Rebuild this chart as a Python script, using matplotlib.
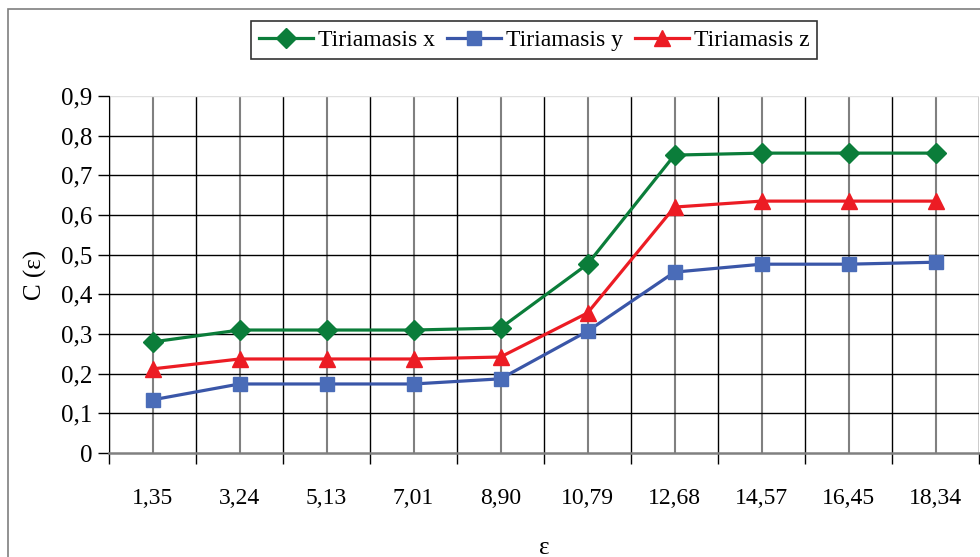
import numpy as np
import matplotlib
matplotlib.use("Agg")
import matplotlib.pyplot as plt
from matplotlib.patches import Rectangle

plt.rcParams['font.family'] = ['Liberation Serif', 'DejaVu Serif']

categories = ['1,35', '3,24', '5,13', '7,01', '8,90', '10,79', '12,68', '14,57', '16,45', '18,34']
tiri_x = [0.28, 0.31, 0.31, 0.31, 0.315, 0.476, 0.751, 0.756, 0.756, 0.756]
tiri_y = [0.134, 0.174, 0.174, 0.174, 0.187, 0.307, 0.456, 0.476, 0.476, 0.481]
tiri_z = [0.212, 0.237, 0.237, 0.237, 0.242, 0.353, 0.62, 0.635, 0.635, 0.635]
y_ticks = [0, 0.1, 0.2, 0.3, 0.4, 0.5, 0.6, 0.7, 0.8, 0.9]
y_labels = ['0', '0,1', '0,2', '0,3', '0,4', '0,5', '0,6', '0,7', '0,8', '0,9']

fig = plt.figure(figsize=(9.8, 5.57), dpi=100)
fig.patches.append(Rectangle((8 / 980, -0.1), 1.2, 1.1 - 9 / 557, transform=fig.transFigure,
                             fill=False, edgecolor='#7f7f7f', linewidth=1.2))
ax = fig.add_axes([109 / 980, 1 - 453 / 557, 870 / 980, 357 / 557])

pos = np.arange(len(categories))
ax.plot(pos, tiri_x, color='#0b7d3a', lw=2.3, marker='D', ms=10, label='Tiriamasis x', zorder=5, clip_on=False)
ax.plot(pos, tiri_y, color='#3a56a8', lw=2.3, marker='s', ms=10, mfc='#4a6cb8', mec='#4a6cb8',
        label='Tiriamasis y', zorder=5, clip_on=False)
ax.plot(pos, tiri_z, color='#ec1c24', lw=2.3, marker='^', ms=11, label='Tiriamasis z', zorder=5, clip_on=False)

ax.set_xlim(-0.5, len(categories) - 0.5)
ax.set_ylim(0, 0.9)

# category boundaries (black) and centres (grey)
ax.set_xticks(np.arange(-0.5, len(categories)), labels=[''] * (len(categories) + 1))
ax.set_xticks(pos, labels=categories, minor=True)
ax.tick_params(axis='x', which='major', length=8, width=1, color='black', direction='out')
ax.tick_params(axis='x', which='minor', length=0, pad=25, labelsize=17)
for b in np.arange(-0.5, len(categories)):
    ax.axvline(b, color='black', lw=1, zorder=1)
for c in pos:
    ax.axvline(c, color='#808080', lw=1.5, zorder=1)

ax.set_yticks(y_ticks, labels=y_labels)
ax.tick_params(axis='y', length=8, width=1, direction='out', labelsize=18, pad=4)
for v in y_ticks[1:-1]:
    ax.axhline(v, color='black', lw=1, zorder=1)
ax.axhline(0.9, color='#e0e0e0', lw=1, zorder=1)

ax.spines['top'].set_visible(False)
ax.spines['right'].set_visible(False)
ax.spines['left'].set_color('black')
ax.spines['bottom'].set_color('#808080')
ax.spines['bottom'].set_linewidth(1.8)

ax.set_ylabel('C (ε)', fontsize=18, labelpad=10)
ax.set_xlabel('ε', fontsize=18, labelpad=20)

leg = fig.legend(loc='center', bbox_to_anchor=(534 / 980, 1 - 40 / 557), ncol=3, fontsize=17,
                 frameon=True, fancybox=False, edgecolor='black', handlelength=2.3,
                 handletextpad=0.2, columnspacing=0.5, borderpad=0.35)
leg.get_frame().set_linewidth(1.2)

fig.savefig('out.png', dpi=100)
